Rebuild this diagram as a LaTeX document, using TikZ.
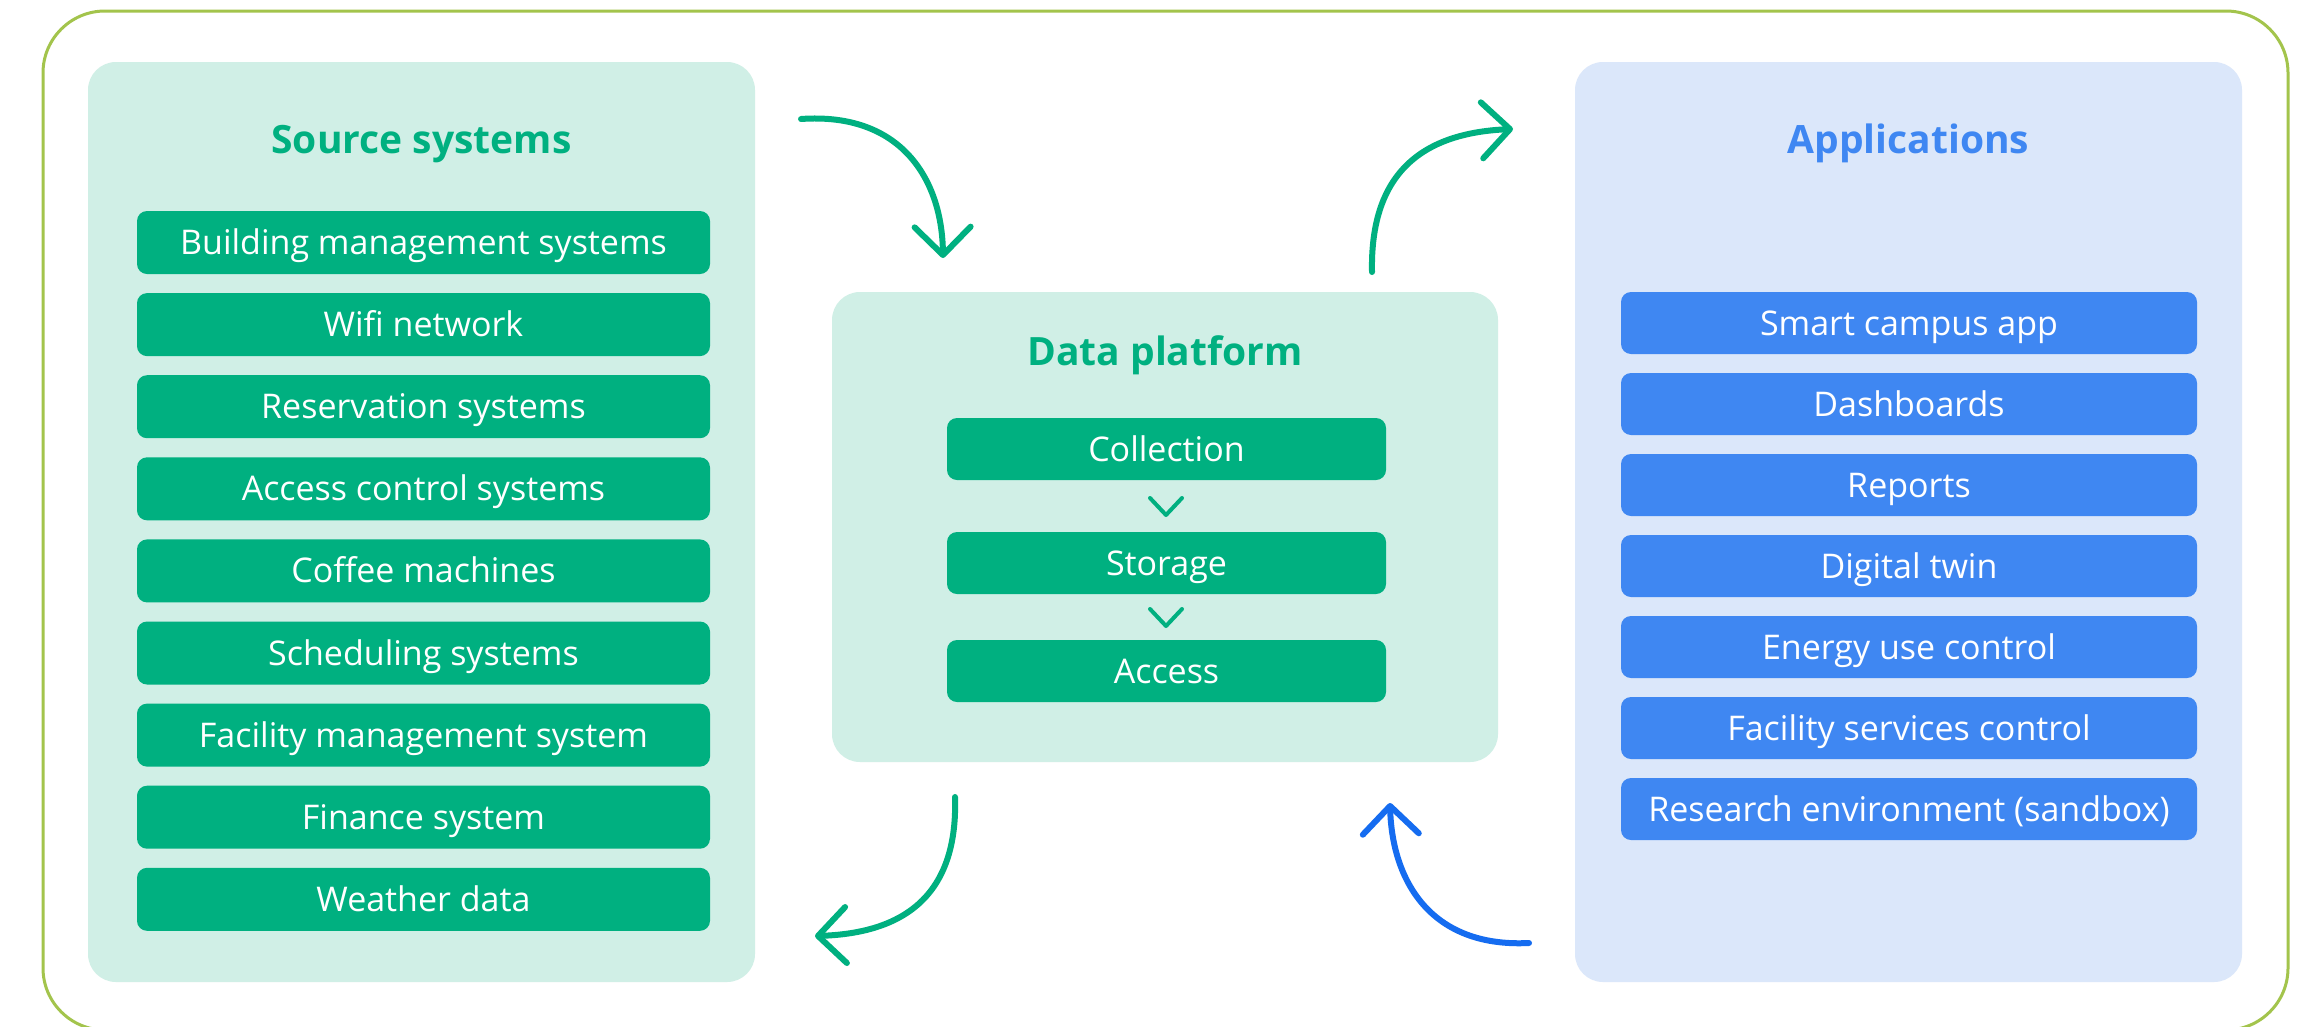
\documentclass[tikz,border=0pt]{standalone}
\usepackage{fontspec}
\setmainfont{Open Sans}
\usetikzlibrary{arrows.meta}
\definecolor{gbox}{RGB}{0,176,128}
\definecolor{gpanel}{RGB}{208,239,230}
\definecolor{bbox}{RGB}{63,135,242}
\definecolor{bpanel}{RGB}{219,231,250}
\definecolor{olive}{RGB}{163,196,76}
\definecolor{barrow}{RGB}{21,108,240}
\begin{document}
\begin{tikzpicture}[x=1pt,y=-1pt,
  panel/.style={rounded corners=28pt, inner sep=0pt, minimum width=667pt},
  itembox/.style={rounded corners=10pt, inner sep=0pt, text=white,
     font=\fontsize{34}{40}\selectfont, text height=24pt, text depth=0pt},
  srcitem/.style={itembox, fill=gbox, minimum width=573pt, minimum height=63pt},
  appitem/.style={itembox, fill=bbox, minimum width=576pt, minimum height=62pt},
  dpitem/.style={itembox, fill=gbox, minimum width=439pt, minimum height=62pt},
  ptitle/.style={inner sep=0pt, font=\fontsize{39}{46}\selectfont\bfseries, text height=28pt, text depth=0pt},
  chev/.style={draw=gbox, line width=4pt, line cap=round, line join=round},
  flow/.style={line width=6pt, line cap=round, -{Straight Barb[length=28pt,width=56pt,round]}}
]
\useasboundingbox (0,0) rectangle (2300,1026);
\fill[white] (0,0) rectangle (2300,1026);
\draw[olive, line width=3pt, rounded corners=62pt] (43,11) rectangle (2288,1030);

% panels
\node[panel, fill=gpanel, minimum height=920pt] (src) at (421.5,522) {};
\node[panel, fill=gpanel, minimum width=666pt, minimum height=470pt] (dp) at (1165,527) {};
\node[panel, fill=bpanel, minimum height=920pt] (app) at (1908.5,522) {};

% titles
\node[ptitle, text=gbox] (srct) at (421.5,139.5) {Source systems};
\node[ptitle, text=gbox] (dpt) at (1165,351.5) {Data platform};
\node[ptitle, text=bbox] (appt) at (1908.5,139.5) {Applications};

% source items
\node[srcitem] (s1) at (423.5,242.5) {Building management systems};
\node[srcitem] (s2) at (423.5,324.6) {Wifi network};
\node[srcitem] (s3) at (423.5,406.7) {Reservation systems};
\node[srcitem] (s4) at (423.5,488.8) {Access control systems};
\node[srcitem] (s5) at (423.5,570.9) {Coffee machines};
\node[srcitem] (s6) at (423.5,653.0) {Scheduling systems};
\node[srcitem] (s7) at (423.5,735.1) {Facility management system};
\node[srcitem] (s8) at (423.5,817.2) {Finance system};
\node[srcitem] (s9) at (423.5,899.3) {Weather data};

% data platform items
\node[dpitem] (d1) at (1166.5,449) {Collection};
\node[dpitem] (d2) at (1166.5,563) {Storage};
\node[dpitem] (d3) at (1166.5,671) {Access};
\coordinate (c1) at (1166,515);
\coordinate (c2) at (1166,626);
\draw[chev] ([shift={(-16,-17)}]c1) -- (c1) -- ([shift={(16,-17)}]c1);
\draw[chev] ([shift={(-16,-17)}]c2) -- (c2) -- ([shift={(16,-17)}]c2);

% application items
\node[appitem] (a1) at (1909,323) {Smart campus app};
\node[appitem] (a2) at (1909,404) {Dashboards};
\node[appitem] (a3) at (1909,485) {Reports};
\node[appitem] (a4) at (1909,566) {Digital twin};
\node[appitem] (a5) at (1909,647) {Energy use control};
\node[appitem] (a6) at (1909,728) {Facility services control};
\node[appitem] (a7) at (1909,809) {Research environment (sandbox)};

% flow arrows
\coordinate (f1s) at (801,119);
\coordinate (f1e) at (943,258);
\coordinate (f2s) at (1372,272);
\coordinate (f2e) at (1513,129);
\coordinate (f3s) at (955,797);
\coordinate (f3e) at (815,936);
\coordinate (f4s) at (1529,943);
\coordinate (f4e) at (1390,803);
\draw[flow, gbox] (f1s) .. controls (900,112) and (942,178) .. (f1e);
\draw[flow, gbox] (f2s) .. controls (1370,175) and (1420,133) .. (f2e);
\draw[flow, gbox] (f3s) .. controls (958,890) and (910,933) .. (f3e);
\draw[flow, barrow] (f4s) .. controls (1430,948) and (1392,880) .. (f4e);
\end{tikzpicture}
\end{document}
